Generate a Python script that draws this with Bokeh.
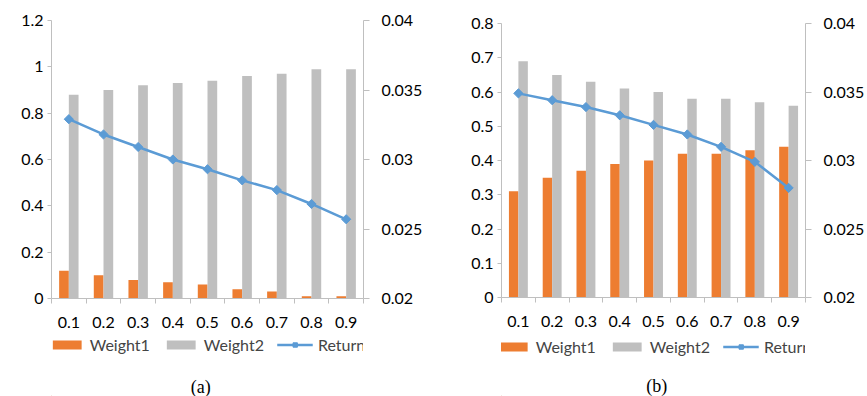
import numpy as np
from bokeh.plotting import figure
from bokeh.models import (Range1d, LinearAxis, FixedTicker, NumeralTickFormatter,
                          Legend, LegendItem, Label)
from bokeh.layouts import row, column
from bokeh.embed import file_html
from bokeh.resources import INLINE

categories = ["0.1", "0.2", "0.3", "0.4", "0.5", "0.6", "0.7", "0.8", "0.9"]

weight1_a = [0.12, 0.10, 0.08, 0.07, 0.06, 0.04, 0.03, 0.01, 0.01]
weight2_a = [0.88, 0.90, 0.92, 0.93, 0.94, 0.96, 0.97, 0.99, 0.99]
return_a = [0.0329, 0.0318, 0.0309, 0.0300, 0.0293, 0.0285, 0.0278, 0.0268, 0.0257]

weight1_b = [0.31, 0.35, 0.37, 0.39, 0.40, 0.42, 0.42, 0.43, 0.44]
weight2_b = [0.69, 0.65, 0.63, 0.61, 0.60, 0.58, 0.58, 0.57, 0.56]
return_b = [0.0349, 0.0344, 0.0339, 0.0333, 0.0326, 0.0319, 0.0310, 0.0299, 0.0280]

left_ticks_a = [0, 0.2, 0.4, 0.6, 0.8, 1.0, 1.2]
left_ticks_b = [0, 0.1, 0.2, 0.3, 0.4, 0.5, 0.6, 0.7, 0.8]
right_ticks = [0.02, 0.025, 0.03, 0.035, 0.04]
series_names = ["Weight1", "Weight2", "Return"]

ORANGE = "#ED7D31"
GRAY = "#BFBFBF"
BLUE = "#5B9BD5"
AXIS = "#BFBFBF"
FONT = "Lato"
FS = "16px"


def style_axis(ax, tick_out, standoff):
    ax.axis_line_color = AXIS
    ax.major_tick_line_color = AXIS
    ax.minor_tick_line_color = None
    ax.major_tick_in = 0
    ax.major_tick_out = tick_out
    ax.major_label_standoff = standoff
    ax.major_label_text_font = FONT
    ax.major_label_text_font_size = FS
    ax.major_label_text_color = "#000000"


def make_chart(w1, w2, ret, ymax, lticks, width, height, mb_left, mb_right,
               mb_top, mb_bottom):
    n = len(categories)
    centers = [i + 0.5 for i in range(n)]
    p = figure(width=width, height=height, output_backend="svg", toolbar_location=None,
               x_range=Range1d(0, n), y_range=Range1d(0, ymax),
               min_border_left=mb_left, min_border_right=mb_right,
               min_border_top=mb_top, min_border_bottom=mb_bottom)
    p.outline_line_color = None
    p.grid.visible = False
    p.extra_y_ranges = {"ret": Range1d(0.02, 0.04)}

    p.vbar(x=[c - 0.14 for c in centers], top=w1, width=0.28,
           color=ORANGE, line_color=None)
    p.vbar(x=[c + 0.14 for c in centers], top=w2, width=0.28,
           color=GRAY, line_color=None)
    p.line(x=centers, y=ret, y_range_name="ret", line_color=BLUE, line_width=2.5)
    p.scatter(x=centers, y=ret, y_range_name="ret", marker="square",
              angle=np.pi / 4, size=6.5, color=BLUE)

    xa = p.xaxis[0]
    xa.ticker = FixedTicker(ticks=centers, minor_ticks=list(range(n + 1)))
    xa.major_label_overrides = {c: lab for c, lab in zip(centers, categories)}
    xa.axis_line_color = AXIS
    xa.major_tick_in = 0
    xa.major_tick_out = 0
    xa.major_tick_line_color = None
    xa.minor_tick_in = 0
    xa.minor_tick_out = 5
    xa.minor_tick_line_color = AXIS
    xa.major_label_standoff = 13
    xa.major_label_text_font = FONT
    xa.major_label_text_font_size = FS
    xa.major_label_text_color = "#000000"

    ya = p.yaxis[0]
    ya.ticker = FixedTicker(ticks=lticks)
    ya.formatter = NumeralTickFormatter(format="0.[000]")
    style_axis(ya, 4, 4)

    ra = LinearAxis(y_range_name="ret", ticker=FixedTicker(ticks=right_ticks),
                    formatter=NumeralTickFormatter(format="0.[000]"))
    style_axis(ra, 6, 12)
    p.add_layout(ra, "right")
    return p


def make_legend(caption, width, height, mb_left, mb_top, cap_x, cap_y):
    fw = width - mb_left
    fh = height - mb_top
    q = figure(width=width, height=height, output_backend="svg", toolbar_location=None,
               x_range=Range1d(0, fw), y_range=Range1d(0, fh),
               x_axis_location=None, y_axis_location=None,
               min_border_left=mb_left, min_border_right=0, min_border_top=mb_top,
               min_border_bottom=0)
    q.outline_line_color = None
    q.grid.visible = False
    q.xgrid.visible = False
    q.ygrid.visible = False
    # swatch renderers, placed outside the visible range (legend previews only)
    r1 = q.vbar(x=[-1000], top=[1], width=1, color=ORANGE, line_color=None)
    r2 = q.vbar(x=[-1000], top=[1], width=1, color=GRAY, line_color=None)
    r3 = q.line(x=[-1000, -990], y=[1, 1], line_color=BLUE, line_width=2.5)
    r4 = q.scatter(x=[-1000], y=[1], marker="square", angle=np.pi / 4, size=6.5,
                   color=BLUE)
    legend = Legend(items=[LegendItem(label=series_names[0], renderers=[r1]),
                           LegendItem(label=series_names[1], renderers=[r2]),
                           LegendItem(label=series_names[2], renderers=[r3, r4])],
                    orientation="horizontal", location="top_center",
                    glyph_width=36, glyph_height=11, label_standoff=5, spacing=13,
                    padding=0, margin=0, border_line_color=None,
                    background_fill_alpha=0,
                    label_text_font=FONT, label_text_font_size=FS)
    q.add_layout(legend, "center")
    q.add_layout(Label(x=cap_x - mb_left, y=cap_y, text=caption, text_align="center",
                       text_baseline="middle", text_font="Liberation Serif",
                       text_font_size="18px", text_color="#000000"))
    return q


pa = make_chart(weight1_a, weight2_a, return_a, 1.2, left_ticks_a,
                width=430, height=332, mb_left=51, mb_right=67, mb_top=20, mb_bottom=34)
la = make_legend("(a)", width=430, height=64, mb_left=14, mb_top=3,
                 cap_x=213, cap_y=10)

pb = make_chart(weight1_b, weight2_b, return_b, 0.8, left_ticks_b,
                width=437, height=332, mb_left=71, mb_right=59, mb_top=23, mb_bottom=35)
lb = make_legend("(b)", width=437, height=64, mb_left=57, mb_top=5,
                 cap_x=251, cap_y=11)

layout = row(column(pa, la), column(pb, lb))
open("out.html", "w").write(file_html(layout, INLINE))
